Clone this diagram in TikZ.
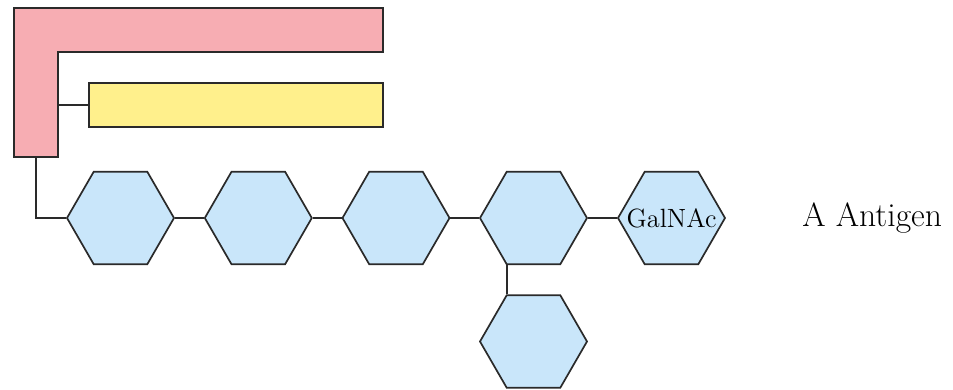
\documentclass[tikz,border=0pt]{standalone}
\usepackage{tikz}
\usepackage{xcolor}
\usetikzlibrary{shapes.geometric}
\definecolor{Antibody Pink}{HTML}{F7ADB3}
\definecolor{Chain Yellow}{HTML}{FFF08C}
\definecolor{Sugar Blue}{HTML}{C9E6FA}
\definecolor{Line Gray}{HTML}{2A2A2A}

\begin{document}
\begin{tikzpicture}[x=0.5pt, y=-0.5pt]
  \useasboundingbox (0,0) rectangle (953,390);

  \tikzstyle{outline} = [draw=Line Gray, line width=0.85pt]
  \tikzstyle{sugar} = [outline, regular polygon, regular polygon sides=6,
                       minimum size=53.5pt, inner sep=0pt, fill=Sugar Blue]
  \tikzstyle{link} = [draw=Line Gray, line width=0.85pt]

  % Draw the heavy chain (L shape)
  \path[outline, fill=Antibody Pink]
      (14,8) -- (383,8) -- (383,52) -- (58,52) -- (58,157) -- (14,157) -- cycle;
  \coordinate (heavy-side) at (58,105);
  \coordinate (heavy-foot) at (36,157);

  % Draw the light chain
  \node[outline, fill=Chain Yellow, minimum width=147pt, minimum height=22pt,
        inner sep=0pt] (light) at (236,105) {};

  % Draw the sugar chain
  \foreach \i/\x in {1/120.5, 2/258.3, 3/396, 4/533.5}
      \node[sugar] (S-\i) at (\x,218) {};
  \node[sugar, label={[font=\fontsize{13.2}{15}\selectfont]center:GalNAc}]
      (S-5) at (671.5,218) {};
  \node[sugar] (S-branch) at (533.5,341.5) {};

  % Connect everything
  \path[link] (heavy-side) -- (light.west);
  \path[link] (heavy-foot) |- (S-1.west);
  \foreach \source/\dest in {1/2, 2/3, 3/4, 4/5}
      \path[link] (S-\source.east) -- (S-\dest.west);
  \path[link] ([xshift=-13.4pt]S-4.south) -- ([xshift=-13.4pt]S-branch.north);

  % Annotate
  \node[anchor=base west, inner sep=0pt, font=\fontsize{16.8}{19}\selectfont]
      (title) at (802,227) {A Antigen};

\end{tikzpicture}
\end{document}
